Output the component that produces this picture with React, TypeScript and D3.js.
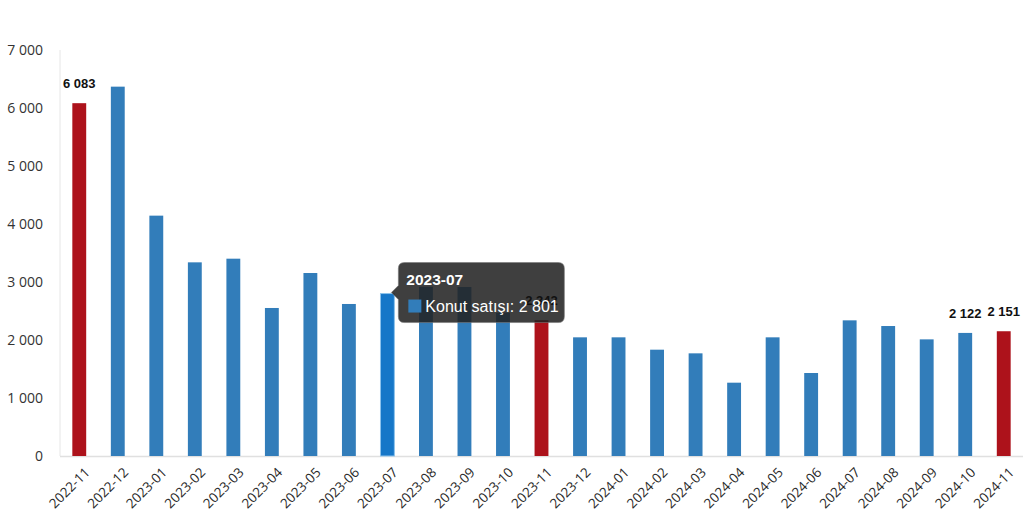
import React from "react";
import * as d3 from "d3";

const categories = [
  "2022-11","2022-12","2023-01","2023-02","2023-03","2023-04","2023-05","2023-06",
  "2023-07","2023-08","2023-09","2023-10","2023-11","2023-12","2024-01","2024-02",
  "2024-03","2024-04","2024-05","2024-06","2024-07","2024-08","2024-09","2024-10","2024-11",
];
const sales = [
  6083, 6368, 4144, 3339, 3402, 2552, 3155, 2621,
  2801, 2918, 2914, 2471, 2342, 2046, 2046, 1833,
  1770, 1264, 2046, 1431, 2339, 2241, 2011, 2122, 2151,
];
const redMonths = ["2022-11", "2023-11", "2024-11"];
const labeledMonths = ["2022-11", "2023-11", "2024-10", "2024-11"];
const yTicks = [0, 1000, 2000, 3000, 4000, 5000, 6000, 7000];
const tooltipMonth = "2023-07";
const seriesName = "Konut satışı";

const W = 1024;
const H = 526;
const M = { left: 60, right: 1023, top: 50, bottom: 456 };

const fmt = (v: number) => {
  const s = String(Math.round(v));
  return s.replace(/\B(?=(\d{3})+(?!\d))/g, " ");
};

export default function App() {
  const x = d3.scaleBand<string>().domain(categories).range([M.left, M.right]).paddingInner(0.64).paddingOuter(0.32);
  const y = d3.scaleLinear().domain([0, 7000]).range([M.bottom, M.top]);
  const bw = x.bandwidth();

  const ti = categories.indexOf(tooltipMonth);
  const barRight = (x(tooltipMonth) as number) + bw;
  const tyMid = y(sales[ti]) - 1;
  const tipX = barRight + 4;
  const tipY = tyMid - 30;
  const tipW = 166;
  const tipH = 60;

  return (
    <svg width={W} height={H} style={{ position: "absolute", left: 0, top: 0, background: "#fff" }}>
      {/* axis lines */}
      <line x1={M.left} x2={M.left} y1={M.top} y2={M.bottom} stroke="#e6e6e6" strokeWidth={1} />
      <line x1={M.left} x2={M.right} y1={M.bottom + 0.5} y2={M.bottom + 0.5} stroke="#e0e0e0" strokeWidth={1.5} />
      {/* y ticks */}
      {yTicks.map((t) => (
        <text key={t} x={43} y={y(t)} dy="0.35em" textAnchor="end" fontFamily="'Open Sans', sans-serif" fontSize={14} fill="#333">
          {fmt(t)}
        </text>
      ))}
      {/* bars */}
      {categories.map((c, i) => {
        const isRed = redMonths.includes(c);
        const isHi = c === tooltipMonth;
        const fill = isRed ? "#ad121b" : isHi ? "#1677c8" : "#327dba";
        return (
          <rect key={c} x={x(c) as number} y={y(sales[i])} width={bw} height={M.bottom - y(sales[i])}
            fill={fill} stroke={isHi ? "#8cc3ec" : "none"} strokeWidth={isHi ? 1 : 0} />
        );
      })}
      {/* x labels */}
      {categories.map((c) => {
        const cx = (x(c) as number) + bw / 2 + 8;
        const cy = M.bottom + 14;
        return (
          <text key={c} transform={`translate(${cx},${cy}) rotate(-45)`} textAnchor="end" dy="0.35em"
            fontFamily="'Open Sans', sans-serif" fontSize={13.5} fill="#2a2a2a">
            {c}
          </text>
        );
      })}
      {/* tooltip background */}
      <path
        d={`M${tipX + 6},${tipY} H${tipX + tipW - 6} Q${tipX + tipW},${tipY} ${tipX + tipW},${tipY + 6} V${tipY + tipH - 6} Q${tipX + tipW},${tipY + tipH} ${tipX + tipW - 6},${tipY + tipH} H${tipX + 6} Q${tipX},${tipY + tipH} ${tipX},${tipY + tipH - 6} V${tyMid + 7} L${tipX - 7},${tyMid} L${tipX},${tyMid - 7} V${tipY + 6} Q${tipX},${tipY} ${tipX + 6},${tipY} Z`}
        fill="rgba(34,34,34,0.87)" stroke="rgba(120,120,120,0.6)" strokeWidth={1}
      />
      {/* data labels */}
      {categories.map((c, i) =>
        labeledMonths.includes(c) ? (
          <text key={c} x={(x(c) as number) + bw / 2} y={y(sales[i]) - 15} textAnchor="middle"
            fontFamily="'Liberation Sans', Arial, sans-serif" fontWeight="bold" fontSize={13} fill="#111">
            {fmt(sales[i])}
          </text>
        ) : null
      )}
      {/* tooltip text */}
      <text x={tipX + 8} y={tipY + 22} fontFamily="'Liberation Sans', Arial, sans-serif" fontWeight="bold" fontSize={15.5} fill="#fff">
        {tooltipMonth}
      </text>
      <rect x={tipX + 10} y={tipY + 37} width={13} height={13} fill="#327dba" />
      <text x={tipX + 27} y={tipY + 49} fontFamily="'Liberation Sans', Arial, sans-serif" fontSize={16} fill="#fff">
        {`${seriesName}: ${fmt(sales[ti])}`}
      </text>
    </svg>
  );
}
